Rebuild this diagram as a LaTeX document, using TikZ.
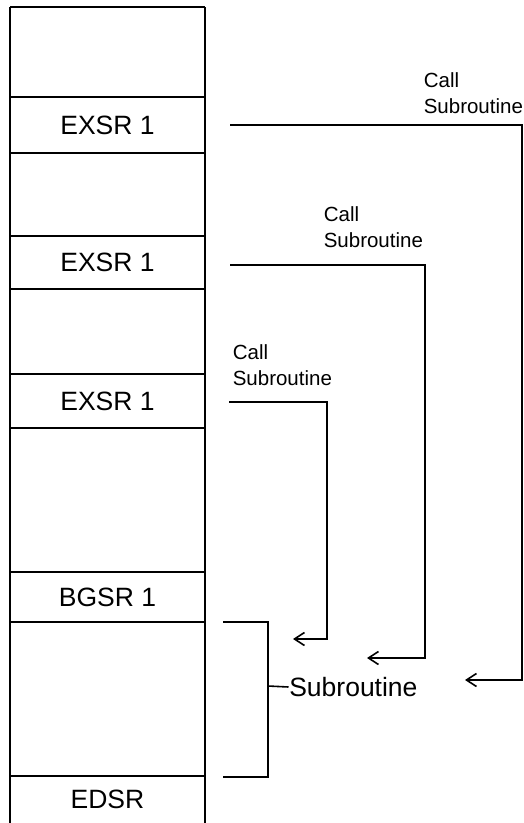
\documentclass[tikz,border=0pt]{standalone}
\usepackage{fontspec}
\setmainfont{Liberation Sans}
\usetikzlibrary{arrows.meta}
\begin{document}
\begin{tikzpicture}[x=1pt,y=-1pt, line width=1.6pt,
  lbl/.style={font=\fontsize{26.5}{30}\selectfont},
  call/.style={font=\fontsize{20.5}{26}\selectfont, align=left, anchor=south west, inner sep=0pt},
  cell/.style={minimum width=195pt, inner sep=0pt, outer sep=0pt},
  conn/.style={-{Straight Barb[length=10pt,width=13pt,line width=1.6pt]}}]
\useasboundingbox (0,0) rectangle (523,823);
% column cells
\node[cell, minimum height=90pt] (r0) at (107.5,52) {};
\node[cell, lbl, minimum height=56pt] (e1) at (107.5,125) {EXSR 1};
\node[cell, minimum height=83pt] (r2) at (107.5,194.5) {};
\node[cell, lbl, minimum height=53pt] (e2) at (107.5,262.5) {EXSR 1};
\node[cell, minimum height=85pt] (r4) at (107.5,331.5) {};
\node[cell, lbl, minimum height=54pt] (e3) at (107.5,401) {EXSR 1};
\node[cell, minimum height=144pt] (r6) at (107.5,500) {};
\node[cell, lbl, minimum height=50pt] (bg) at (107.5,597) {BGSR 1};
\node[cell, minimum height=154pt] (sub) at (107.5,699) {};
\node[cell, lbl, minimum height=47pt] (ed) at (107.5,799.5) {EDSR};
\draw (r0.north west) -- (r0.north east);
\draw (r0.north west) -- (ed.south west);
\draw (r0.north east) -- (ed.south east);
\foreach \n in {r0,e1,r2,e2,r4,e3,r6,bg,sub}
  \draw (\n.south west) -- (\n.south east);
% call labels
\node[call] (c1) at (423,114) {Call\\Subroutine};
\node[call] (c2) at (323,248) {Call\\Subroutine};
\node[call] (c3) at (232,386) {Call\\Subroutine};
% connectors
\coordinate (s1) at (230,125);
\coordinate (k1) at (522,125);
\coordinate (t1) at (465,680);
\coordinate (s2) at (230,265);
\coordinate (k2) at (425,265);
\coordinate (t2) at (367,658);
\coordinate (s3) at (229,402);
\coordinate (k3) at (327,402);
\coordinate (t3) at (293,639);
\draw[conn] (s1) -- (k1) |- (t1);
\draw[conn] (s2) -- (k2) |- (t2);
\draw[conn] (s3) -- (k3) |- (t3);
% bracket
\coordinate (b1) at (223,622);
\coordinate (b2) at (268,622);
\coordinate (b3) at (268,777);
\coordinate (b4) at (223,777);
\coordinate (bm) at (268,686);
\draw (b1) -- (b2) -- (b3) -- (b4);
\node[lbl, anchor=west, inner sep=0pt, xshift=-1.5pt] (sr) at (290,687) {Subroutine};
\draw (bm) -- (sr.west);
\end{tikzpicture}
\end{document}
